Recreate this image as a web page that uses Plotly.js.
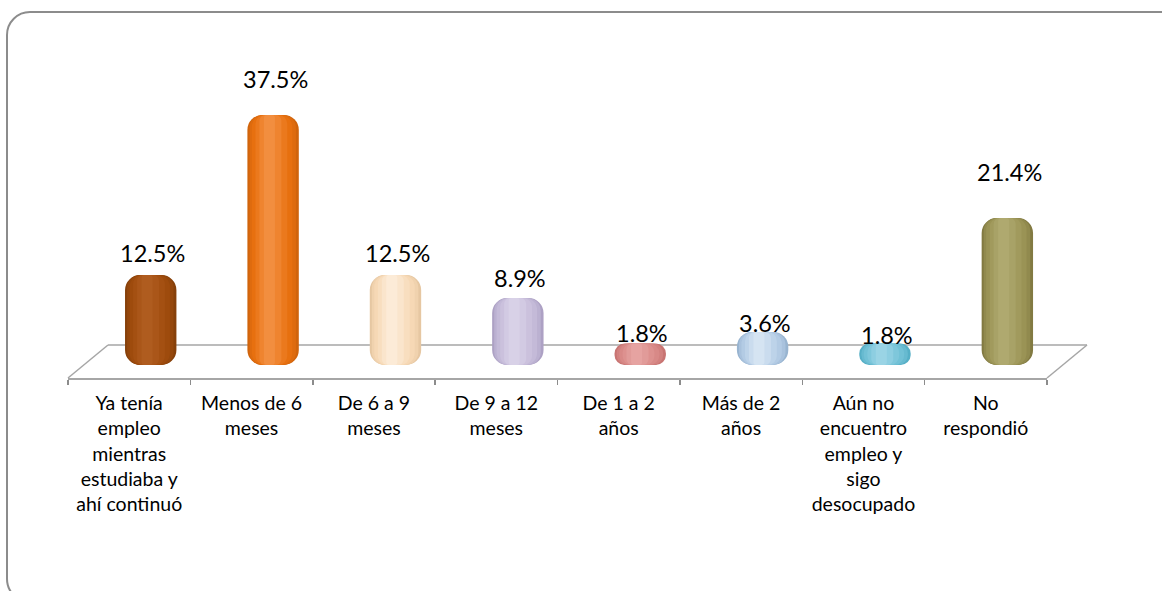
<!DOCTYPE html>
<html>
<head>
<meta charset="utf-8">
<script src="https://cdn.plot.ly/plotly-3.0.1.min.js"></script>
<style>
  html, body { margin: 0; padding: 0; background: #ffffff; overflow: hidden; }
  #wrap { position: relative; width: 1162px; height: 591px; overflow: hidden; }
  #chart { position: absolute; left: 0; top: 0; width: 1162px; height: 591px; }
  #frame { position: absolute; left: 6px; top: 11px; width: 1180px; height: 592px;
           border: 2px solid #8c8c8c; border-radius: 24px; pointer-events: none; box-sizing: border-box; }
</style>
</head>
<body>
<div id="wrap">
  <div id="chart"></div>
  <div id="frame"></div>
</div>
<script>
// ---- data ----
const categories = [
  "Ya tenía<br>empleo<br>mientras<br>estudiaba y<br>ahí continuó",
  "Menos de 6<br>meses",
  "De 6 a 9<br>meses",
  "De 9 a 12<br>meses",
  "De 1 a 2<br>años",
  "Más de 2<br>años",
  "Aún no<br>encuentro<br>empleo y<br>sigo<br>desocupado",
  "No<br>respondió"
];
const values = [12.5, 37.5, 12.5, 8.9, 1.8, 3.6, 1.8, 21.4];

// ---- styles ----
const edgeColors  = ["#86400a", "#d0640c", "#e6c7a2", "#ada1c4", "#c87472", "#98b4d0", "#56afc6", "#827a42"];
const mainColors  = ["#9f4b0d", "#e8700f", "#f7d9b6", "#c5bbd9", "#d98a88", "#b4cce5", "#73c2d7", "#9b9456"];
const lightColors = ["#b25f22", "#f49448", "#fdeedd", "#dcd5ea", "#e8a8a6", "#dbe8f5", "#a2d8e8", "#b3ad74"];
const labelLift = [22, 36, 22, 20, 11, 9, 9, 46];   // px above bar top (label centre)
const barBase = -1.56;
const depthShift = 0.176;   // bars sit half a floor-depth to the right

const lengths = values.map(v => v - barBase);

function hexToRgb(h) { return [1, 3, 5].map(k => parseInt(h.substr(k, 2), 16)); }
function mix(a, b, t) {
  const A = hexToRgb(a), B = hexToRgb(b);
  return "rgb(" + A.map((c, k) => Math.round(c + (B[k] - c) * t)).join(",") + ")";
}
function shade(i, t) {
  return t <= 0.5 ? mix(edgeColors[i], mainColors[i], t / 0.5)
                  : mix(mainColors[i], lightColors[i], (t - 0.5) / 0.5);
}

// cylinder shading built from stacked overlay layers
const layers = [
  { w: 0.42, c: 0.000, t: 0.00 },
  { w: 0.38, c: -0.003, t: 0.30 },
  { w: 0.33, c: -0.008, t: 0.48 },
  { w: 0.26, c: -0.014, t: 0.62 },
  { w: 0.18, c: -0.022, t: 0.78 },
  { w: 0.09, c: -0.030, t: 0.92 }
];

const traces = layers.map(L => ({
  type: "bar", x: categories, y: lengths, base: barBase,
  width: L.w, offset: depthShift + L.c - L.w / 2,
  customdata: values,
  hovertemplate: "%{customdata:.1f}%<extra></extra>",
  marker: { color: values.map((v, i) => shade(i, L.t)), line: { width: 0 }, cornerradius: "30%" },
  showlegend: false
}));

const floorColor = "#a6a6a6";
const dx = 40 / 979, dy = 33 / 318;
const shapes = [
  { type: "line", xref: "paper", yref: "paper", x0: dx, y0: dy, x1: 1 + dx, y1: dy, line: { color: floorColor, width: 1.5 }, layer: "below" },
  { type: "line", xref: "paper", yref: "paper", x0: 0, y0: 0, x1: dx, y1: dy, line: { color: floorColor, width: 1.5 }, layer: "below" },
  { type: "line", xref: "paper", yref: "paper", x0: 1, y0: 0, x1: 1 + dx, y1: dy, line: { color: floorColor, width: 1.5 }, layer: "below" }
];

const annotations = values.map((v, i) => ({
  x: categories[i], y: v, xref: "x", yref: "y",
  xshift: depthShift * 122.4 + 2, yshift: labelLift[i],
  text: v.toFixed(1) + "%", showarrow: false,
  xanchor: "center", yanchor: "middle",
  font: { family: "Lato, 'Liberation Sans', sans-serif", size: 23.5, color: "#000000" }
}));

const layout = {
  width: 1162, height: 591,
  margin: { l: 68, r: 115, t: 60, b: 213 },
  paper_bgcolor: "rgba(0,0,0,0)", plot_bgcolor: "rgba(0,0,0,0)",
  barmode: "overlay",
  font: { family: "Lato, 'Liberation Sans', sans-serif", color: "#000000" },
  xaxis: {
    type: "category", range: [-0.5, 7.5], fixedrange: true,
    showline: true, linecolor: floorColor, linewidth: 1.5,
    ticks: "outside", tickson: "boundaries", ticklen: 5, tickcolor: "#8c8c8c", tickwidth: 1.5,
    ticklabelstandoff: 7,
    tickfont: { family: "Lato, 'Liberation Sans', sans-serif", size: 19.5, color: "#000000" },
    showgrid: false, zeroline: false
  },
  yaxis: {
    range: [-3.59, 46.09], fixedrange: true,
    showgrid: false, zeroline: false, showline: false, showticklabels: false, ticks: ""
  },
  shapes: shapes,
  annotations: annotations
};

Plotly.newPlot("chart", traces, layout, { displayModeBar: false, staticPlot: true });
</script>
</body>
</html>
